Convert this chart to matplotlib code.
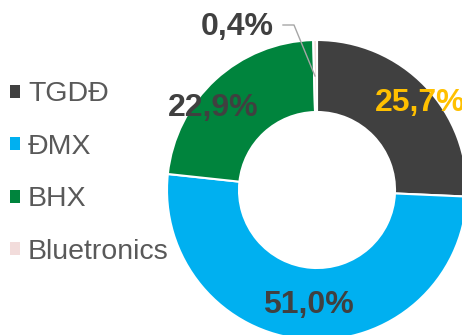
import matplotlib.pyplot as plt

plt.rcParams['font.family'] = ['Liberation Sans', 'DejaVu Sans']

categories = ['TGDĐ', 'ĐMX', 'BHX', 'Bluetronics']
shares = [25.7, 51.0, 22.9, 0.4]
share_labels = ['25,7%', '51,0%', '22,9%', '0,4%']
colors = ['#404040', '#00B0F0', '#00843D', '#F2DCDB']

fig = plt.figure(figsize=(4.62, 3.35), dpi=100, facecolor='w')
ax = fig.add_axes([0, 0, 1, 1])

# donut, centre sits partly outside the canvas like the original crop
cx, cy, r = 317, 145, 150
wedges, _ = ax.pie(shares, colors=colors, startangle=90, counterclock=False,
                   center=(cx, cy), radius=r, frame=True,
                   wedgeprops=dict(width=72, edgecolor='white', linewidth=1.5))
ax.set_xlim(0, 462)
ax.set_ylim(0, 335)
ax.set_aspect('equal')
ax.axis('off')

lbl = dict(fontsize=23, fontweight='bold', ha='center', va='center')
ax.text(308, 335 - 305, share_labels[1], color='#404040', **lbl)
ax.text(213, 335 - 108, share_labels[2], color='#404040', **lbl)
ax.text(237, 335 - 27, share_labels[3], color='#404040', **lbl)
# the reference crops this label at the right edge
ax.text(375, 335 - 103, share_labels[0], color='#FFC000', fontsize=23,
        fontweight='bold', ha='left', va='center')

# leader line for the tiny slice
ax.plot([283, 294, 315], [335 - 25, 335 - 25, 335 - 76], color='#A6A6A6', lw=1)

leg = ax.legend(wedges, categories, loc='upper left', bbox_to_anchor=(0.022, 0.757),
                frameon=False, fontsize=20.5, handlelength=0.33, handleheight=0.33,
                handletextpad=0.3, labelspacing=0.93, borderaxespad=0, borderpad=0)
for t in leg.get_texts():
    t.set_color('#595959')
for h in leg.legend_handles:
    h.set_edgecolor('none')

fig.savefig('out.png', dpi=100)
